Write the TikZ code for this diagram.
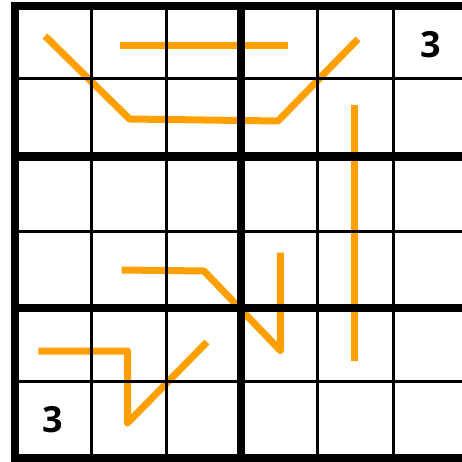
\documentclass[tikz,border=0pt]{standalone}
\usepackage{fontspec}
\setmainfont{Open Sans}
\definecolor{lineorange}{RGB}{255,160,0}
\begin{document}
\begin{tikzpicture}[x=1pt,y=-1pt,
  pathline/.style={draw=lineorange,line width=7pt,line cap=butt,line join=round},
  thinrule/.style={draw=black,line width=3pt},
  thickrule/.style={draw=black,line width=8.5pt},
  given/.style={font=\fontsize{36}{36}\selectfont\bfseries,text=black,inner sep=0pt}]
\useasboundingbox (0,0) rectangle (462,462);
\fill[white] (0,0) rectangle (462,462);
% orange paths
\draw[pathline] (45,36) -- (129.5,119) -- (278,121) -- (358,39);
\draw[pathline] (120,46) -- (287.7,46);
\draw[pathline] (354.7,105) -- (354.7,361);
\draw[pathline] (121.7,270) -- (204,271) -- (280.3,350.5) -- (280.3,252.7);
\draw[pathline] (38.3,351) -- (127.5,351) -- (127.5,423) -- (207,342);
% thin grid lines
\foreach \x in {91,166,317,393} \draw[thinrule] (\x,6) -- (\x,458);
\foreach \y in {79,231,381} \draw[thinrule] (15,\y) -- (468,\y);
% thick grid lines
\foreach \x in {15,241,468} \draw[thickrule] (\x,1.75) -- (\x,462.25);
\foreach \y in {6,156.5,308,458} \draw[thickrule] (10.75,\y) -- (472,\y);
% givens
\node[given] (g1) at (430.5,44.5) {3};
\node[given] (g2) at (52.5,420) {3};
\end{tikzpicture}
\end{document}
